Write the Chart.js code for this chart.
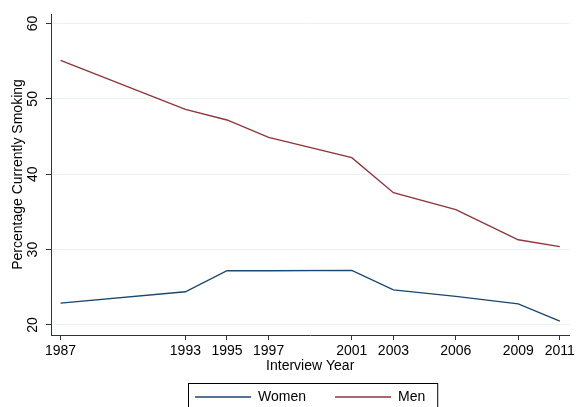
<!DOCTYPE html>
<html>
<head>
<meta charset="utf-8">
<script src="https://cdn.jsdelivr.net/npm/chart.js@4"></script>
<style>
  html, body { margin: 0; padding: 0; background: #fff; overflow: hidden; }
  #wrap { width: 578px; height: 407px; overflow: hidden; }
</style>
</head>
<body>
<div id="wrap"><canvas id="smokingChart" width="578" height="414"></canvas></div>
<script>
// Survey years and % currently smoking
const years = [1987, 1993, 1995, 1997, 2001, 2003, 2006, 2009, 2011];
const women = [22.9, 24.4, 27.2, 27.2, 27.25, 24.65, 23.8, 22.8, 20.5];
const men = [55.1, 48.6, 47.2, 44.9, 42.2, 37.55, 35.3, 31.3, 30.4];
const yTicks = [20, 30, 40, 50, 60];

const FONT = "'Liberation Sans', Arial, Helvetica, sans-serif";
const navy = '#1a476f';
const maroon = '#90353b';

const toPoints = (vals) => years.map((yr, i) => ({ x: yr, y: vals[i] }));

// box round the legend, Stata style
const legendBorder = {
  id: 'legendBorder',
  afterDraw(chart) {
    const boxes = chart.legend.legendHitBoxes;
    if (!boxes || !boxes.length) return;
    const left = Math.min(...boxes.map(b => b.left)) - 7;
    const right = Math.max(...boxes.map(b => b.left + b.width)) + 12;
    const top = boxes[0].top - 7;
    const ctx = chart.ctx;
    ctx.save();
    ctx.strokeStyle = '#000';
    ctx.lineWidth = 1;
    ctx.strokeRect(Math.round(left) + 0.5, Math.round(top) + 0.5, right - left, 40);
    ctx.restore();
  }
};

const ctx = document.getElementById('smokingChart').getContext('2d');
const smokingChart = new Chart(ctx, {
  type: 'line',
  data: {
    datasets: [{
      label: 'Women',
      data: toPoints(women),
      borderColor: navy,
      backgroundColor: navy,
      borderWidth: 1.4,
      pointRadius: 0,
      tension: 0
    }, {
      label: 'Men',
      data: toPoints(men),
      borderColor: maroon,
      backgroundColor: maroon,
      borderWidth: 1.4,
      pointRadius: 0,
      tension: 0
    }]
  },
  options: {
    responsive: false,
    animation: false,
    layout: { padding: { top: 14, right: 6, left: 0, bottom: 0 } },
    plugins: {
      tooltip: { enabled: false },
      legend: {
        position: 'bottom',
        fullSize: false,
        labels: {
          usePointStyle: true,
          pointStyle: 'line',
          pointStyleWidth: 56,
          padding: 29,
          color: '#000',
          font: { family: FONT, size: 14 }
        }
      }
    },
    scales: {
      x: {
        type: 'linear',
        min: 1986.54,
        max: 2011.46,
        afterBuildTicks: (scale) => { scale.ticks = years.map(v => ({ value: v })); },
        afterFit: (scale) => { scale.height = 26; },
        ticks: {
          color: '#000',
          padding: 3,
          maxRotation: 0,
          autoSkip: false,
          font: { family: FONT, size: 14 },
          callback: (v) => String(v)
        },
        grid: { drawOnChartArea: false, tickLength: 5, tickColor: '#333' },
        border: { color: '#333', width: 1 },
        title: {
          display: true,
          text: 'Interview Year',
          color: '#000',
          padding: { top: 0, bottom: -14 },
          font: { family: FONT, size: 14 }
        }
      },
      y: {
        min: 18.67,
        max: 61.26,
        afterBuildTicks: (scale) => { scale.ticks = yTicks.map(v => ({ value: v })); },
        afterFit: (scale) => { scale.width = 51; },
        ticks: {
          color: '#000',
          padding: 5,
          minRotation: 90,
          maxRotation: 90,
          crossAlign: 'center',
          font: { family: FONT, size: 14 },
          callback: (v) => String(v)
        },
        grid: { color: '#eaf2f3', lineWidth: 1, tickLength: 5, tickColor: '#333' },
        border: { color: '#333', width: 1 },
        title: {
          display: true,
          text: 'Percentage Currently Smoking',
          color: '#000',
          padding: { top: 10, bottom: 0 },
          font: { family: FONT, size: 14 }
        }
      }
    }
  },
  plugins: [legendBorder]
});
</script>
</body>
</html>
